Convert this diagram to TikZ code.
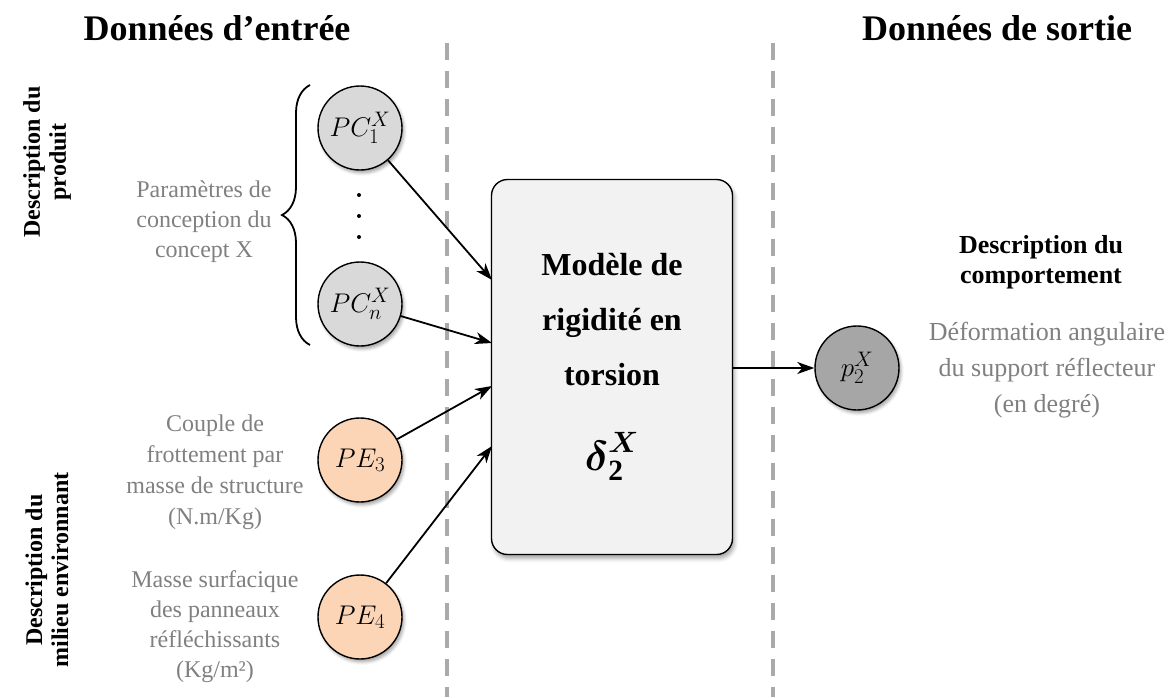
\RequirePackage{fix-cm}
\documentclass[tikz,border=0pt]{standalone}
\usepackage{amsmath}
\usepackage{fontspec}
\setmainfont{Liberation Serif}
\usetikzlibrary{arrows.meta,decorations.pathreplacing,shadows.blur}

\DeclareMathSizes{27}{27}{21}{15}

\definecolor{pcgray}{RGB}{217,217,217}
\definecolor{pepeach}{RGB}{251,213,181}
\definecolor{outgray}{RGB}{166,166,166}
\definecolor{boxgray}{RGB}{242,242,242}
\definecolor{txtgray}{RGB}{128,128,128}
\definecolor{sepgray}{RGB}{170,170,170}

\tikzset{
  param/.style={circle,draw,line width=1.4pt,minimum size=84pt,inner sep=0pt,
    blur shadow={shadow xshift=2pt,shadow yshift=-3pt,shadow blur radius=3pt,shadow opacity=35},
    font=\fontsize{27}{32}\selectfont},
  sep/.style={sepgray,line width=4pt,dash pattern=on 17pt off 11pt},
  arr/.style={line width=1.8pt,-{Stealth[length=17pt,width=12pt,inset=5pt]}},
  note/.style={txtgray,align=center},
  head/.style={font=\fontsize{36}{40}\selectfont\bfseries}
}

\begin{document}
\begin{tikzpicture}[x=1pt,y=-1pt]
  \useasboundingbox (0,0) rectangle (1175,697);

  % titles
  \node[head] (tin) at (217,28) {Données d’entrée};
  \node[head] (tout) at (997,28) {Données de sortie};

  % separators
  \draw[sep] (447,43) -- (447,697);
  \draw[sep] (773,43) -- (773,697);

  % side labels
  \node[rotate=90,align=center,font=\fontsize{24}{26}\selectfont\bfseries] (sprod) at (47,162) {Description du\\produit};
  \node[rotate=90,align=center,font=\fontsize{24}{26}\selectfont\bfseries] (senv) at (47,570) {Description du\\milieu environnant};

  % input parameters
  \node[param,fill=pcgray] (pc1) at (360,128) {$PC_{1}^{X}$};
  \node[param,fill=pcgray] (pcn) at (360,304) {$PC_{n}^{X}$};
  \node[param,fill=pepeach] (pe3) at (360,460) {$PE_3$};
  \node[param,fill=pepeach] (pe4) at (360,617) {$PE_4$};

  \fill (359,195) circle (2pt);
  \fill (359,216) circle (2pt);
  \fill (359,237) circle (2pt);

  \draw[line width=1.8pt,decorate,decoration={brace,amplitude=28pt}] (310,345) -- (310,85);

  % descriptions of the inputs
  \node[note,font=\fontsize{24}{30}\selectfont] (dpc) at (204,222) {Paramètres de\\conception du\\concept X};
  \node[note,font=\fontsize{24}{31}\selectfont] (dpe3) at (215,472) {Couple de\\frottement par\\masse de structure\\(N.m/Kg)};
  \node[note,font=\fontsize{24}{30}\selectfont] (dpe4) at (215,627) {Masse surfacique\\des panneaux\\réfléchissants\\(Kg/m²)};

  % model
  \node[draw,line width=1.4pt,fill=boxgray,rounded corners=16pt,minimum width=241pt,minimum height=375pt,
    blur shadow={shadow xshift=2pt,shadow yshift=-4pt,shadow blur radius=4pt,shadow opacity=35},
    align=center,font=\fontsize{32}{55}\selectfont\bfseries] (box) at (612,367)
    {Modèle de\\rigidité en\\torsion\\[30pt]{\fontsize{42}{50}\selectfont$\boldsymbol{\delta}_{\mathbf{2}}^{\boldsymbol{X}}$}};

  \coordinate (inA) at (492,280);
  \coordinate (inB) at (492,343);
  \coordinate (inC) at (492,386);
  \coordinate (inD) at (492,446);

  \draw[arr] (pc1) -- (inA);
  \draw[arr] (pcn) -- (inB);
  \draw[arr] (pe3) -- (inC);
  \draw[arr] (pe4) -- (inD);

  % output
  \node[param,fill=outgray] (p2) at (857,368) {$p_{2}^{X}$};
  \draw[arr] (box.east |- p2) -- (p2);

  \node[align=center,font=\fontsize{26}{30}\selectfont\bfseries] (dout) at (1041,262) {Description du\\comportement};
  \node[note,font=\fontsize{26}{36}\selectfont] (dp2) at (1047,370) {Déformation angulaire\\du support réflecteur\\(en degré)};
\end{tikzpicture}
\end{document}
